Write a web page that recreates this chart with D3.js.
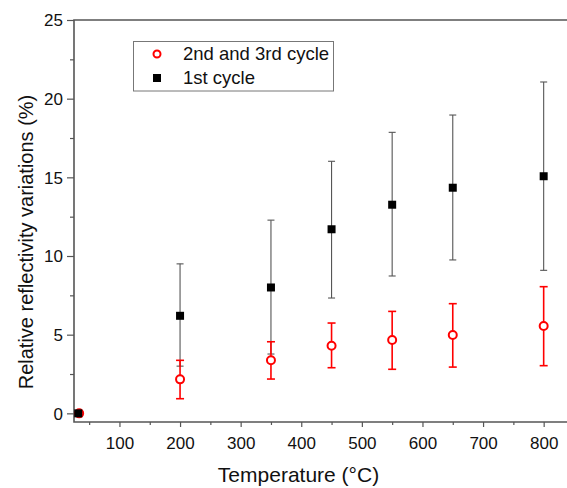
<!DOCTYPE html>
<html><head><meta charset="utf-8">
<script src="https://cdn.jsdelivr.net/npm/d3@7"></script>
<style>body{margin:0;background:#fff}svg{display:block}</style>
</head><body>
<svg id="c" width="567" height="488"></svg>
<script>
const temps1 = [32, 200, 350, 450, 550, 650, 800];
const temps23 = [33.5, 200, 350, 450, 550, 650, 800];
const cycle1 = [0, 6.2, 8.0, 11.7, 13.26, 14.34, 15.07];
const cycle1Lo = [0, 3.0, 3.77, 7.33, 8.73, 9.75, 9.09];
const cycle1Hi = [0, 9.5, 12.28, 16.02, 17.86, 18.96, 21.06];
const cycle23 = [0, 2.16, 3.37, 4.3, 4.66, 4.98, 5.55];
const cycle23Lo = [0, 0.93, 2.18, 2.9, 2.8, 2.94, 3.03];
const cycle23Hi = [0, 3.37, 4.55, 5.74, 6.48, 6.97, 8.05];
const xTicks = [100, 200, 300, 400, 500, 600, 700, 800];
const xMinor = [50, 150, 250, 350, 450, 550, 650, 750];
const yTicks = [0, 5, 10, 15, 20, 25];
const yMinor = [2.5, 7.5, 12.5, 17.5, 22.5];
const legendLabels = ["2nd and 3rd cycle", "1st cycle"];

const svg = d3.select("#c");
const L = 74, R = 567, T = 20, B = 422;
const x = d3.scaleLinear().domain([25, 838.5]).range([L, R]);
const y = d3.scaleLinear().domain([-0.55, 25]).range([B, T]);
const axisCol = "#555";
const font = "'Liberation Sans', Arial, sans-serif";

// axes
const gx = svg.append("g").attr("transform", `translate(0,${B})`)
  .call(d3.axisBottom(x).tickValues(xTicks).tickSize(5).tickPadding(10).tickFormat(d3.format("d")));
const gxm = svg.append("g").attr("transform", `translate(0,${B})`)
  .call(d3.axisBottom(x).tickValues(xMinor).tickSize(3).tickFormat(""));
const gy = svg.append("g").attr("transform", `translate(${L},0)`)
  .call(d3.axisLeft(y).tickValues(yTicks).tickSize(7).tickPadding(4).tickFormat(d3.format("d")));
const gym = svg.append("g").attr("transform", `translate(${L},0)`)
  .call(d3.axisLeft(y).tickValues(yMinor).tickSize(4).tickFormat(""));
[gx, gxm, gy, gym].forEach(g => {
  g.select(".domain").remove();
  g.selectAll("line").attr("stroke", axisCol).attr("stroke-width", 1.2);
  g.selectAll("text").attr("font-family", font).attr("font-size", 17).attr("fill", "#111");
});
gy.selectAll("text").attr("dy", "0.35em");

// frame
svg.append("path").attr("d", `M${R},${T}H${L}V${B}H${R}`)
  .attr("fill", "none").attr("stroke", axisCol).attr("stroke-width", 1.6);

const plot = svg.append("g");
const d1 = temps1.map((t, i) => ({t, v: cycle1[i], lo: cycle1Lo[i], hi: cycle1Hi[i]}));
const d23 = temps23.map((t, i) => ({t, v: cycle23[i], lo: cycle23Lo[i], hi: cycle23Hi[i]}));

function errBars(data, col, w, cap) {
  const g = plot.append("g").attr("stroke", col).attr("stroke-width", w);
  data.filter(d => d.hi > d.lo).forEach(d => {
    g.append("line").attr("x1", x(d.t)).attr("x2", x(d.t)).attr("y1", y(d.lo)).attr("y2", y(d.hi));
    g.append("line").attr("x1", x(d.t) - cap).attr("x2", x(d.t) + cap).attr("y1", y(d.lo)).attr("y2", y(d.lo));
    g.append("line").attr("x1", x(d.t) - cap).attr("x2", x(d.t) + cap).attr("y1", y(d.hi)).attr("y2", y(d.hi));
  });
}
errBars(d1, "#555", 1.1, 3.5);
errBars(d23, "#f00", 1.6, 4);

// red circles
plot.append("g").selectAll("circle").data(d23).join("circle")
  .attr("cx", d => x(d.t)).attr("cy", d => y(d.v)).attr("r", 4)
  .attr("fill", "#fff").attr("stroke", "#f00").attr("stroke-width", 2);
// black squares
plot.append("g").selectAll("rect").data(d1).join("rect")
  .attr("x", d => x(d.t) - 4).attr("y", d => y(d.v) - 4).attr("width", 8).attr("height", 8)
  .attr("fill", "#000");

// legend
const lg = svg.append("g");
lg.append("rect").attr("x", 133.5).attr("y", 41.5).attr("width", 200).attr("height", 49.5)
  .attr("fill", "#fff").attr("stroke", "#777").attr("stroke-width", 1);
lg.append("circle").attr("cx", 157).attr("cy", 54).attr("r", 3.5)
  .attr("fill", "#fff").attr("stroke", "#f00").attr("stroke-width", 2);
lg.append("rect").attr("x", 153).attr("y", 74).attr("width", 8).attr("height", 8).attr("fill", "#000");
legendLabels.forEach((s, i) => {
  lg.append("text").attr("x", 183).attr("y", 54 + i * 24).attr("dy", "0.35em")
    .attr("font-family", font).attr("font-size", 18.5).attr("fill", "#111").text(s);
});

// titles
svg.append("text").attr("x", 298.5).attr("y", 482).attr("text-anchor", "middle")
  .attr("font-family", font).attr("font-size", 21).attr("fill", "#111").text("Temperature (°C)");
svg.append("text").attr("transform", "translate(33,242) rotate(-90)").attr("text-anchor", "middle")
  .attr("font-family", font).attr("font-size", 20).attr("fill", "#111").text("Relative reflectivity variations (%)");
</script>
</body></html>
